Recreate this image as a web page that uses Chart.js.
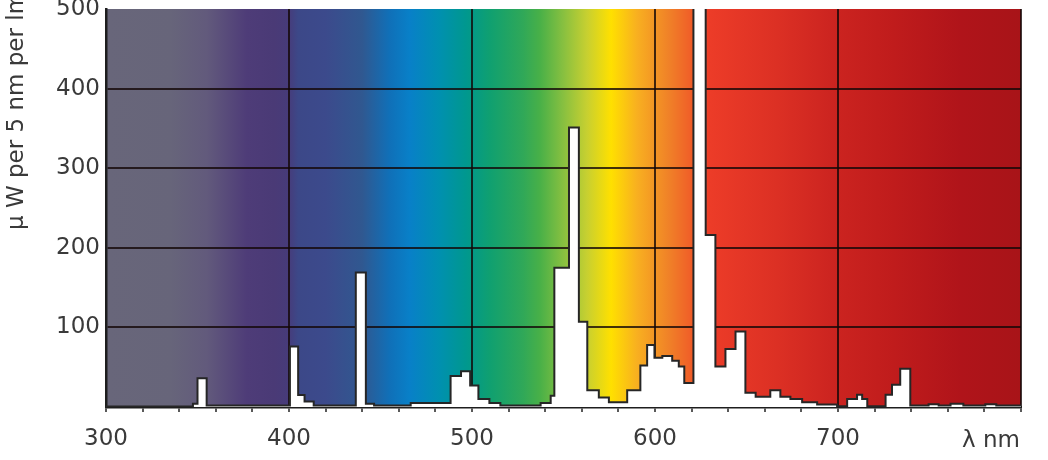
<!DOCTYPE html>
<html>
<head>
<meta charset="utf-8">
<script src="https://cdn.jsdelivr.net/npm/chart.js@4/dist/chart.umd.min.js"></script>
<style>
  html, body { margin: 0; padding: 0; background: #fff; }
  #wrap { width: 1048px; height: 460px; position: relative; }
</style>
</head>
<body>
<div id="wrap"><canvas id="spectrum"></canvas></div>
<script>
// left edge of each step (nm) and its value
var wavelength = [300, 347.5, 350, 355, 400.5, 405, 408.5, 413.5, 436.5, 442, 446.5, 466.5,
    488.3, 494, 499, 503.5, 509.5, 515.5, 537.5, 543, 545, 553, 558.4, 563, 569.3, 574.8,
    584.8, 592, 595.7, 599.7, 604, 609.4, 613, 616, 621, 627.7, 633, 638.5, 644, 649.4,
    655, 663, 668.5, 674, 680.4, 688.6, 699.5, 705, 710.4, 713.2, 716, 726, 729.5, 734,
    739.5, 749.5, 755, 761.5, 768.5, 780.5, 786.5, 800];
var power = [0.5, 4, 36, 2, 76, 15, 7, 2, 169, 4, 2, 5,
    39, 45, 27, 10, 5, 2, 5, 14, 175, 351, 107, 21, 12, 6,
    21, 52, 78, 62, 64, 58, 51, 30, 620, 216, 51, 73, 95, 18,
    13, 21, 13, 10, 6, 3, 1, 10, 15.5, 10, 1, 15.5, 28, 48,
    2, 3.5, 2, 4, 2, 3.5, 2, 2];

var xTickLabels = [300, 400, 500, 600, 700];
var yTickLabels = [100, 200, 300, 400, 500];
var yTitle = "μ W per 5 nm per lm";
var xUnit = "λ nm";

// spectrum colours behind the plot
var gradNm = [300, 335, 355, 377, 392, 399.5, 405, 420, 440, 455, 466, 482, 497, 510, 528,
    537, 550, 563, 576, 590, 608, 619, 630, 667, 697, 730, 767, 800];
var gradColor = ["#68667a", "#67657a", "#625a7c", "#4e3c78", "#4a3a76", "#473b7a", "#3c4888",
    "#3c4a8c", "#305890", "#1070b8", "#0880c8", "#0090b0", "#00988e", "#10a070", "#30a858",
    "#48b048", "#88c040", "#c8d030", "#ffe000", "#f8b020", "#f08028", "#f06028", "#ec3c28",
    "#dc3024", "#cc2420", "#c01c1c", "#b0141a", "#a81418"];

var fontFamily = "'DejaVu Sans', 'Liberation Sans', Arial, sans-serif";
var textColor = "#3a3a3a";

var points = [];
for (let i = 0; i < wavelength.length; i++) {
    points.push({x: wavelength[i], y: power[i]});
}

var spectrumBackground = {
    id: "spectrumBackground",
    beforeDraw: function (chart) {
        let area = chart.chartArea;
        let xs = chart.scales.x;
        let ctx = chart.ctx;
        let grad = ctx.createLinearGradient(area.left, 0, area.right, 0);
        for (let i = 0; i < gradNm.length; i++) {
            let p = (xs.getPixelForValue(gradNm[i]) - area.left) / (area.right - area.left);
            grad.addColorStop(Math.min(1, Math.max(0, p)), gradColor[i]);
        }
        ctx.save();
        ctx.fillStyle = grad;
        ctx.fillRect(area.left, area.top, area.right - area.left, area.bottom - area.top);
        ctx.restore();
    },
    afterDraw: function (chart) {
        let ctx = chart.ctx;
        let xs = chart.scales.x;
        ctx.save();
        ctx.fillStyle = textColor;
        ctx.font = "23px " + fontFamily;
        ctx.textAlign = "right";
        ctx.textBaseline = "alphabetic";
        ctx.fillText(xUnit, xs.getPixelForValue(800) - 1, 447);
        ctx.translate(23, 111);
        ctx.rotate(-Math.PI / 2);
        ctx.textAlign = "center";
        ctx.fillText(yTitle, 0, 0);
        ctx.restore();
    }
};

new Chart(document.getElementById("spectrum").getContext("2d"), {
    type: "line",
    data: {
        datasets: [{
            data: points,
            stepped: true,
            fill: "origin",
            backgroundColor: "#ffffff",
            borderColor: "#262626",
            borderWidth: 2,
            borderJoinStyle: "miter",
            pointRadius: 0,
            clip: 0
        }]
    },
    options: {
        responsive: true,
        maintainAspectRatio: false,
        animation: false,
        layout: {padding: {top: 9, right: 27, left: 0, bottom: 0}},
        plugins: {legend: {display: false}, tooltip: {enabled: false}},
        scales: {
            x: {
                type: "linear",
                min: 300,
                max: 800,
                afterFit: function (scale) { scale.height = 53; },
                ticks: {
                    stepSize: 20,
                    autoSkip: false,
                    maxRotation: 0,
                    padding: 13,
                    color: textColor,
                    font: {size: 23, family: fontFamily},
                    callback: function (v) {
                        return xTickLabels.indexOf(v) >= 0 ? String(v) : "";
                    }
                },
                grid: {
                    color: function (c) {
                        let v = c.tick ? c.tick.value : 0;
                        if (v === 300) return "rgba(0,0,0,0)";
                        return (v % 100 === 0) ? "rgba(20,8,8,0.8)" : "rgba(0,0,0,0)";
                    },
                    lineWidth: 2,
                    drawTicks: true,
                    tickLength: 5,
                    tickColor: "#222",
                    tickWidth: 1.5
                },
                border: {color: "#1e1e1e", width: 2.5}
            },
            y: {
                min: 0,
                max: 500,
                afterFit: function (scale) {
                    scale.width = 106;
                    scale.paddingTop = 0;
                    scale.paddingBottom = 0;
                },
                ticks: {
                    stepSize: 100,
                    padding: 6,
                    color: textColor,
                    font: {size: 23, family: fontFamily},
                    callback: function (v) {
                        return yTickLabels.indexOf(v) >= 0 ? String(v) : "";
                    }
                },
                grid: {
                    color: function (c) {
                        let v = c.tick ? c.tick.value : 0;
                        return (v > 0 && v < 500) ? "rgba(20,8,8,0.8)" : "rgba(0,0,0,0)";
                    },
                    lineWidth: 2,
                    drawTicks: false
                },
                border: {color: "#1e1e1e", width: 2.5}
            }
        }
    },
    plugins: [spectrumBackground]
});
</script>
</body>
</html>
